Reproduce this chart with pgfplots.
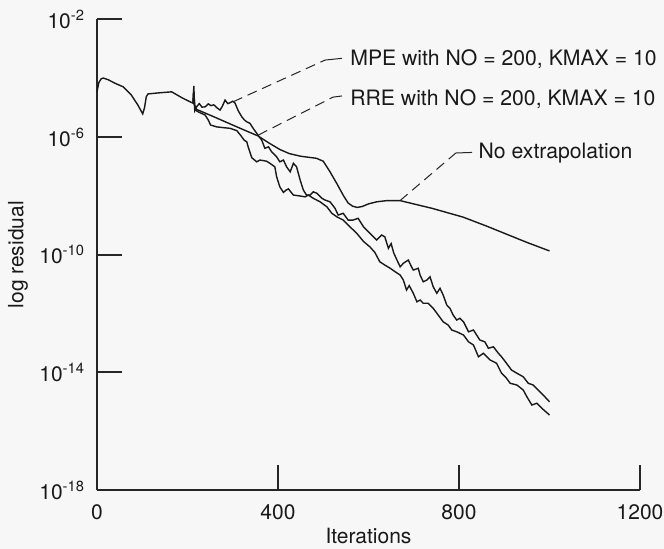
\documentclass[border=0pt]{standalone}
\usepackage{fontspec}
\setmainfont{TeX Gyre Heros}
\usepackage{pgfplots}
\pgfplotsset{compat=1.18}
\usepackage{pgfplotstable}

% columns: iteration, log10(residual)
\pgfplotstableread{
x ly
0 -4.46
4 -4.15
9 -4.02
14 -3.99
25 -4.05
40 -4.17
58 -4.29
75 -4.55
90 -4.90
101 -5.21
105 -5.00
109 -4.62
113 -4.53
140 -4.49
165 -4.46
190 -4.68
206 -4.80
214 -4.86
219 -5.05
260 -5.32
300 -5.59
330 -5.79
356 -5.96
380 -6.20
404 -6.42
425 -6.56
450 -6.65
485 -6.72
500 -6.82
515 -7.18
530 -7.58
545 -8.00
555 -8.24
565 -8.35
575 -8.39
586 -8.36
600 -8.27
618 -8.20
640 -8.16
670 -8.16
740 -8.42
809 -8.72
860 -9.02
905 -9.30
950 -9.58
1000 -9.87
}\noext

\pgfplotstableread{
x ly
212 -4.84
214 -4.26
216 -5.10
221 -4.95
226 -4.86
232 -4.98
239 -4.97
246 -4.87
252 -4.93
258 -4.90
265 -5.00
272 -5.08
277 -4.95
283 -4.74
289 -4.86
294 -4.83
300 -4.78
305 -4.84
312 -5.10
320 -5.31
326 -5.42
331 -5.48
338 -5.53
345 -5.70
353 -5.87
357 -5.96
364 -6.10
371 -6.38
379 -6.33
386 -6.50
397 -6.67
404 -6.84
412 -6.78
419 -7.01
427 -7.18
434 -6.89
441 -7.01
449 -7.46
456 -7.80
463 -7.97
471 -7.97
478 -7.86
486 -7.91
497 -8.08
504 -8.14
515 -8.20
526 -8.42
533 -8.65
544 -8.59
555 -8.82
566 -8.82
577 -8.76
589 -9.05
603 -9.27
618 -9.50
629 -9.33
636 -9.39
644 -9.78
650 -9.62
656 -9.95
662 -10.15
670 -10.41
677 -10.29
688 -10.18
695 -10.41
699 -10.52
710 -10.46
714 -10.69
721 -10.92
729 -10.86
736 -10.75
743 -11.09
751 -11.31
758 -11.14
765 -11.37
773 -11.71
780 -11.82
787 -12.05
795 -12.22
802 -12.16
810 -12.28
821 -12.62
832 -12.56
839 -12.73
846 -12.90
857 -12.96
865 -13.18
876 -13.13
887 -13.35
894 -13.47
905 -13.69
916 -13.92
928 -14.03
942 -14.15
953 -14.37
964 -14.43
975 -14.60
986 -14.77
1000 -15.00
}\mpe

\pgfplotstableread{
x ly
212 -4.84
213.5 -4.45
217 -5.08
225 -5.15
232 -5.20
239 -5.25
246 -5.42
251 -5.59
258 -5.62
264 -5.65
280 -5.68
294 -5.70
309 -5.78
318 -5.95
325 -6.10
331 -6.16
334 -6.33
342 -6.70
353 -6.84
360 -6.78
368 -6.80
375 -6.82
382 -6.89
393 -7.01
397 -7.35
404 -7.69
412 -7.88
418 -7.80
423 -7.76
434 -7.97
448 -8.00
460 -8.03
467 -7.97
478 -8.08
493 -8.20
508 -8.37
519 -8.59
530 -8.71
544 -8.82
559 -9.05
574 -9.27
589 -9.55
603 -9.73
614 -9.92
625 -10.24
636 -10.35
648 -10.46
659 -10.58
670 -10.69
677 -10.86
684 -11.20
690 -11.05
699 -11.31
707 -11.60
714 -11.54
721 -11.65
732 -11.65
743 -11.82
754 -12.05
765 -12.28
776 -12.39
784 -12.56
795 -12.62
810 -12.73
821 -12.96
832 -13.07
843 -13.47
854 -13.35
869 -13.58
883 -13.69
894 -14.03
905 -14.20
913 -14.37
928 -14.43
942 -14.60
950 -14.83
961 -15.11
972 -15.05
983 -15.22
1000 -15.45
}\rre

\begin{document}
\begin{tikzpicture}
\useasboundingbox (-48.5bp,-29.5bp) rectangle (283.5bp,245bp);
\fill[white!97!black] (-48.5bp,-29.5bp) rectangle (283.5bp,245bp);
\begin{axis}[
  at={(0,0)}, anchor=south west,
  scale only axis, width=271.5bp, height=235.25bp,
  xmin=0, xmax=1200, ymin=-18, ymax=-2,
  axis lines=left,
  axis line style={-, line width=1bp, black!85},
  tick align=inside,
  major tick length=12.5bp,
  tick style={line width=1bp, black!85},
  xtick={0,400,800,1200},
  xticklabels={0,400,800,1200},
  ytick={-18,-14,-10,-6,-2},
  yticklabels={\raisebox{-3.5bp}{10\textsuperscript{-18}},10\textsuperscript{-14},10\textsuperscript{-10},10\textsuperscript{-6},10\textsuperscript{-2}},
  ticklabel style={font=\fontsize{10.5bp}{12.6bp}\selectfont, text=black!90},
  yticklabel style={xshift=-2.5bp},
  xticklabel style={yshift=-4bp},
  xlabel={Iterations},
  ylabel={log residual},
  label style={font=\fontsize{10.5bp}{12.6bp}\selectfont, text=black!90},
  xlabel style={at={(axis description cs:0.5,-0.1137)}, anchor=base},
  ylabel style={at={(axis description cs:-0.1354,0.5)}, anchor=base, rotate=0},
  clip=false,
  every axis plot/.append style={line width=0.7bp, black!90},
]
\addplot[mark=none] table[x=x, y=ly] {\noext};
\addplot[mark=none] table[x=x, y=ly] {\mpe};
\addplot[mark=none] table[x=x, y=ly] {\rre};

\begin{scope}[font=\fontsize{10.6bp}{12.7bp}\selectfont, text=black!90]
\node[anchor=base west, inner sep=0pt] at (axis cs:559,-3.58) {MPE with NO = 200, KMAX = 10};
\node[anchor=base west, inner sep=0pt] at (axis cs:559,-4.908) {RRE with NO = 200, KMAX = 10};
\node[anchor=base west, inner sep=0pt] at (axis cs:842.6,-6.71) {No extrapolation};
\end{scope}
\draw[black!85, line width=0.5bp, dash pattern=on 5bp off 3bp] (axis cs:300.6,-4.80) -- (axis cs:503.9,-3.38);
\draw[black!85, line width=0.5bp] (axis cs:503.9,-3.38) -- (axis cs:541.4,-3.32);
\draw[black!85, line width=0.5bp, dash pattern=on 5bp off 3bp] (axis cs:356.5,-5.93) -- (axis cs:521.5,-4.64);
\draw[black!85, line width=0.5bp] (axis cs:521.5,-4.64) -- (axis cs:541.4,-4.60);
\draw[black!85, line width=0.5bp, dash pattern=on 5bp off 3bp] (axis cs:669.6,-8.16) -- (axis cs:793,-6.54);
\draw[black!85, line width=0.5bp] (axis cs:793,-6.54) -- (axis cs:829,-6.52);
\end{axis}
\end{tikzpicture}
\end{document}
